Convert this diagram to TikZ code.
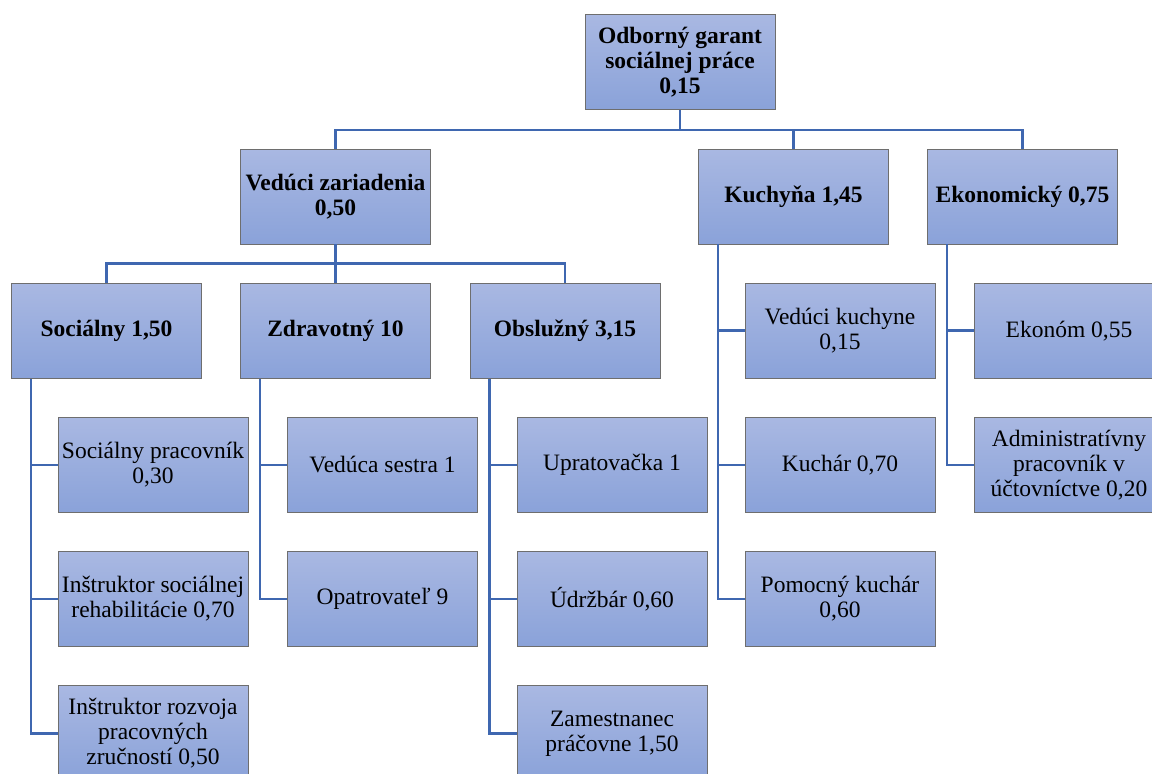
\documentclass[tikz,border=0pt]{standalone}
\usepackage{fontspec}
\setmainfont{Liberation Serif}
\usepackage{tikz}
\usetikzlibrary{calc, positioning}

\definecolor{boxtop}{HTML}{A9B8E2}
\definecolor{boxbot}{HTML}{8AA2D9}
\definecolor{boxline}{HTML}{6E6E6E}
\definecolor{linkblue}{HTML}{3F67B0}

\begin{document}
\begin{tikzpicture}[x=1pt, y=-1pt, node distance={134.2pt},
	box/.style = {draw=boxline, line width=0.8pt, top color=boxtop, bottom color=boxbot,
		minimum width=190pt, minimum height=95pt, inner sep=2pt, align=center,
		font=\fontsize{23.5}{25}\selectfont},
	head/.style = {box, font=\fontsize{23.5}{25}\selectfont\bfseries},
	link/.style = {draw=linkblue, line width=2.5pt}]
		\useasboundingbox (0,0) rectangle (1152,774);
		% top levels
		\node[head] (garant) at (680,62) {Odborný garant\\sociálnej práce\\0,15};
		\node[head] (veduci) at (335.5,196.5) {Vedúci zariadenia\\0,50};
		\node[head] (kuch) at (793.5,196.5) {Kuchyňa 1,45};
		\node[head] (ekon) at (1022.5,196.5) {Ekonomický 0,75};
		\node[head] (soc) [below of=veduci, xshift=-229pt] {Sociálny 1,50};
		\node[head] (zdr) [below of=veduci] {Zdravotný 10};
		\node[head] (obs) [below of=veduci, xshift=229.5pt] {Obslužný 3,15};
		% sociálny
		\node[box] (socprac) [below of=soc, xshift=46.5pt] {Sociálny pracovník\\0,30};
		\node[box] (instr) [below of=socprac] {Inštruktor sociálnej\\rehabilitácie 0,70};
		\node[box] (rozvoj) [below of=instr] {Inštruktor rozvoja\\pracovných\\zručností 0,50};
		% zdravotný
		\node[box] (sestra) [below of=zdr, xshift=47pt] {Vedúca sestra 1};
		\node[box] (opatr) [below of=sestra] {Opatrovateľ 9};
		% obslužný
		\node[box] (uprat) [below of=obs, xshift=47pt] {Upratovačka 1};
		\node[box] (udrz) [below of=uprat] {Údržbár 0,60};
		\node[box] (zamest) [below of=udrz] {Zamestnanec\\práčovne 1,50};
		% kuchyňa
		\node[box] (vkuch) [below of=kuch, xshift=46.5pt] {Vedúci kuchyne\\0,15};
		\node[box] (kuchar) [below of=vkuch] {Kuchár 0,70};
		\node[box] (pomkuch) [below of=kuchar] {Pomocný kuchár\\0,60};
		% ekonomický
		\node[box] (ekonom) [below of=ekon, xshift=46.5pt] {Ekonóm 0,55};
		\node[box] (admin) [below of=ekonom] {Administratívny\\pracovník v\\účtovníctve 0,20};

		\draw[link] (garant.south) -- ++(0,20) coordinate (t1);
		\draw[link] (t1) -| (veduci.north);
		\draw[link] (t1) -| (kuch.north);
		\draw[link] (t1) -| (ekon.north);
		\draw[link] (veduci.south) -- ++(0,19) coordinate (t2);
		\draw[link] (t2) -| (soc.north);
		\draw[link] (t2) -- (zdr.north);
		\draw[link] (t2) -| (obs.north);

		\draw[link] ([xshift=20pt]soc.south west) |- (socprac.west);
		\draw[link] ([xshift=20pt]soc.south west) |- (instr.west);
		\draw[link] ([xshift=20pt]soc.south west) |- (rozvoj.west);
		\draw[link] ([xshift=20pt]zdr.south west) |- (sestra.west);
		\draw[link] ([xshift=20pt]zdr.south west) |- (opatr.west);
		\draw[link] ([xshift=20pt]obs.south west) |- (uprat.west);
		\draw[link] ([xshift=20pt]obs.south west) |- (udrz.west);
		\draw[link] ([xshift=20pt]obs.south west) |- (zamest.west);
		\draw[link] ([xshift=20pt]kuch.south west) |- (vkuch.west);
		\draw[link] ([xshift=20pt]kuch.south west) |- (kuchar.west);
		\draw[link] ([xshift=20pt]kuch.south west) |- (pomkuch.west);
		\draw[link] ([xshift=20pt]ekon.south west) |- (ekonom.west);
		\draw[link] ([xshift=20pt]ekon.south west) |- (admin.west);
	\end{tikzpicture}
\end{document}
